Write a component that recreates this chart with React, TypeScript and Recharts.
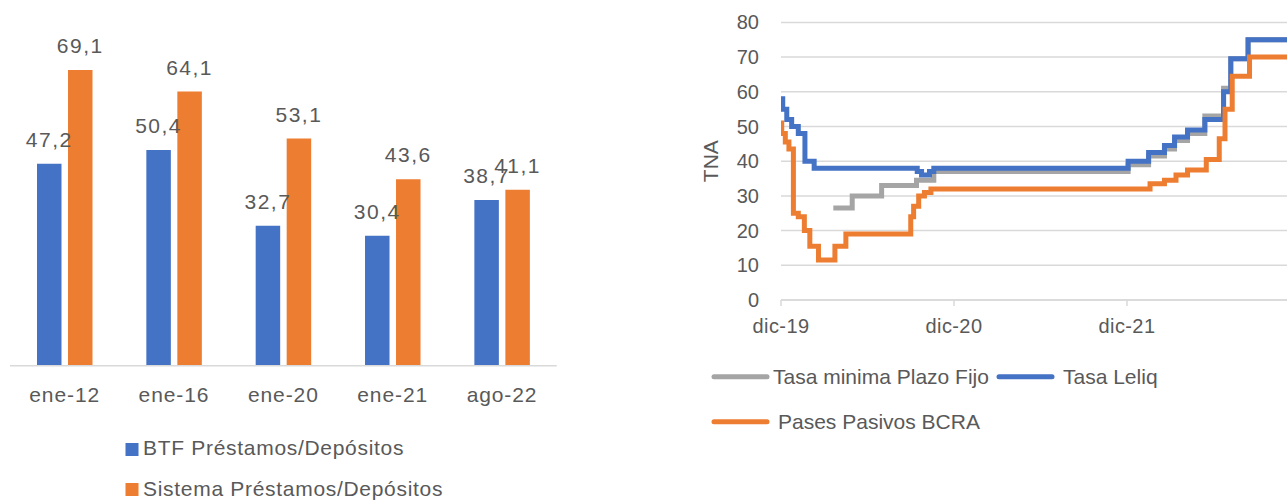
import React from 'react'
import { Bar, BarChart, CartesianGrid, LabelList, Line, LineChart, XAxis, YAxis } from 'recharts'

const BLUE = '#4472C4'
const ORANGE = '#ED7D31'
const GRAY = '#A5A5A5'
const TEXT = '#595959'
const GRID = '#D9D9D9'
const FONT = '"Liberation Sans", Arial, sans-serif'

// left chart: loans / deposits ratio
const barCategories = ['ene-12', 'ene-16', 'ene-20', 'ene-21', 'ago-22']
const btfValues = [47.2, 50.4, 32.7, 30.4, 38.7]
const sistemaValues = [69.1, 64.1, 53.1, 43.6, 41.1]

// right chart: [months since dic-19, TNA %]
const plazoFijoSteps = [
  [3.63, 26.5], [4.94, 30], [6.98, 33], [9.4, 34.5], [10.6, 37],
  [24.08, 39], [25.5, 41.5], [26.6, 43.5], [27.3, 46], [28.2, 48],
  [29.4, 53], [30.7, 61], [31.2, 69.5], [32.4, 75], [35.1, 75],
]
const leliqSteps = [
  [0, 58], [0.12, 55], [0.4, 52], [0.74, 50], [1.2, 48], [1.66, 40], [2.3, 38],
  [9.45, 37], [9.75, 36], [10.3, 37], [10.6, 38],
  [24.08, 40], [25.5, 42.5], [26.6, 44.5], [27.3, 47], [28.2, 49],
  [29.4, 52], [30.7, 60], [31.2, 69.5], [32.4, 75], [35.1, 75],
]
const pasesSteps = [
  [0, 51], [0.05, 48], [0.3, 45.5], [0.55, 43.5], [0.86, 25], [1.2, 24],
  [1.62, 20], [2.0, 15.5], [2.6, 11.5], [3.74, 15.5], [4.5, 19],
  [9.0, 24], [9.2, 27], [9.55, 30], [9.95, 31], [10.4, 32],
  [25.6, 33.5], [26.6, 34.5], [27.4, 36], [28.2, 37.5], [29.5, 40.5],
  [30.4, 46.5], [30.8, 55], [31.3, 64.5], [32.5, 70], [35.1, 70],
]
const rateTicks = [0, 12, 24]
const rateTickLabels = ['dic-19', 'dic-20', 'dic-21']
const tnaTicks = [0, 10, 20, 30, 40, 50, 60, 70, 80]

const barData = barCategories.map((cat, i) => ({ cat, btf: btfValues[i], sistema: sistemaValues[i] }))
const toPoints = (steps: number[][]) => steps.map(([m, v]) => ({ m, v }))

const BarValue = (props: any) => {
  const { x, y, width, value } = props
  return (
    <text x={Number(x) + Number(width) / 2} y={Number(y) - 16.7} textAnchor="middle"
      fill={TEXT} fontSize={21} fontFamily={FONT} letterSpacing={1.5}>
      {Number(value).toFixed(1).replace('.', ',')}
    </text>
  )
}

const BarTick = (props: any) => (
  <text x={props.x} y={props.y} dy={28} textAnchor="middle" fill={TEXT}
    fontSize={21} fontFamily={FONT} letterSpacing={0.9}>
    {props.payload.value}
  </text>
)

const RateXTick = (props: any) => (
  <text x={props.x} y={props.y} dy={25} textAnchor="middle" fill={TEXT}
    fontSize={20} fontFamily={FONT} letterSpacing={0.4}>
    {rateTickLabels[rateTicks.indexOf(props.payload.value)]}
  </text>
)

const RateYTick = (props: any) => (
  <text x={props.x - 14} y={props.y} dy={7} textAnchor="end" fill={TEXT}
    fontSize={20} fontFamily={FONT}>
    {props.payload.value}
  </text>
)

const TnaLabel = (props: any) => {
  const vb = props.viewBox
  const cx = vb.x - 10
  const cy = vb.y + vb.height / 2
  return (
    <text x={cx} y={cy} dy={7} textAnchor="middle" transform={`rotate(-90 ${cx} ${cy})`}
      fill={TEXT} fontSize={21} fontFamily={FONT}>
      TNA
    </text>
  )
}

const Legends = () => (
  <svg width={1287} height={500} style={{ position: 'absolute', left: 0, top: 0, pointerEvents: 'none' }}>
    <g fontFamily={FONT} fontSize={21} fill={TEXT}>
      <rect x={125.5} y={443} width={13} height={13} fill={BLUE} />
      <text x={143} y={455} letterSpacing={0.7}>BTF Préstamos/Depósitos</text>
      <rect x={125.5} y={483} width={13} height={13} fill={ORANGE} />
      <text x={143} y={496} letterSpacing={0.7}>Sistema Préstamos/Depósitos</text>

      <line x1={714} x2={767} y1={376.7} y2={376.7} stroke={GRAY} strokeWidth={5} strokeLinecap="round" />
      <text x={773} y={383.5}>Tasa minima Plazo Fijo</text>
      <line x1={999} x2={1052} y1={376.7} y2={376.7} stroke={BLUE} strokeWidth={5} strokeLinecap="round" />
      <text x={1063} y={383.5}>Tasa Leliq</text>
      <line x1={714} x2={767} y1={421.7} y2={421.7} stroke={ORANGE} strokeWidth={5} strokeLinecap="round" />
      <text x={778} y={428.5}>Pases Pasivos BCRA</text>
    </g>
  </svg>
)

export default function App() {
  return (
    <div style={{ position: 'absolute', left: 0, top: 0, width: 1287, height: 500, overflow: 'hidden', background: '#fff' }}>
      <div style={{ position: 'absolute', left: 0, top: 0 }}>
        <BarChart width={570} height={420} data={barData} barSize={24.5} barGap={6.5}
          margin={{ top: 23.4, right: 13.3, bottom: 14.3, left: 10 }}>
          <XAxis dataKey="cat" height={40} tickLine={false} tick={<BarTick />}
            axisLine={{ stroke: GRID, strokeWidth: 1.5 }} />
          <YAxis hide domain={[0, 80]} />
          <Bar dataKey="btf" fill={BLUE} isAnimationActive={false}>
            <LabelList dataKey="btf" content={<BarValue />} />
          </Bar>
          <Bar dataKey="sistema" fill={ORANGE} isAnimationActive={false}>
            <LabelList dataKey="sistema" content={<BarValue />} />
          </Bar>
        </BarChart>
      </div>

      <div style={{ position: 'absolute', left: 690, top: 0 }}>
        <LineChart width={597} height={350} margin={{ top: 22.4, right: 0, bottom: 10, left: 31 }}>
          <CartesianGrid vertical={false} stroke={GRID} strokeWidth={1.5} />
          <XAxis dataKey="m" type="number" domain={[0, 35.1]} allowDataOverflow ticks={rateTicks}
            height={40} tickSize={6} tick={<RateXTick />}
            axisLine={{ stroke: GRID, strokeWidth: 1.5 }} tickLine={{ stroke: GRID, strokeWidth: 1.5 }} />
          <YAxis type="number" domain={[0, 80]} ticks={tnaTicks} width={60} axisLine={false}
            tickLine={false} tick={<RateYTick />} label={(p: any) => <TnaLabel {...p} />} />
          <Line data={toPoints(plazoFijoSteps)} dataKey="v" type="stepAfter" stroke={GRAY}
            strokeWidth={5} dot={false} isAnimationActive={false} />
          <Line data={toPoints(leliqSteps)} dataKey="v" type="stepAfter" stroke={BLUE}
            strokeWidth={5} dot={false} isAnimationActive={false} />
          <Line data={toPoints(pasesSteps)} dataKey="v" type="stepAfter" stroke={ORANGE}
            strokeWidth={5} dot={false} isAnimationActive={false} />
        </LineChart>
      </div>

      <Legends />
    </div>
  )
}
